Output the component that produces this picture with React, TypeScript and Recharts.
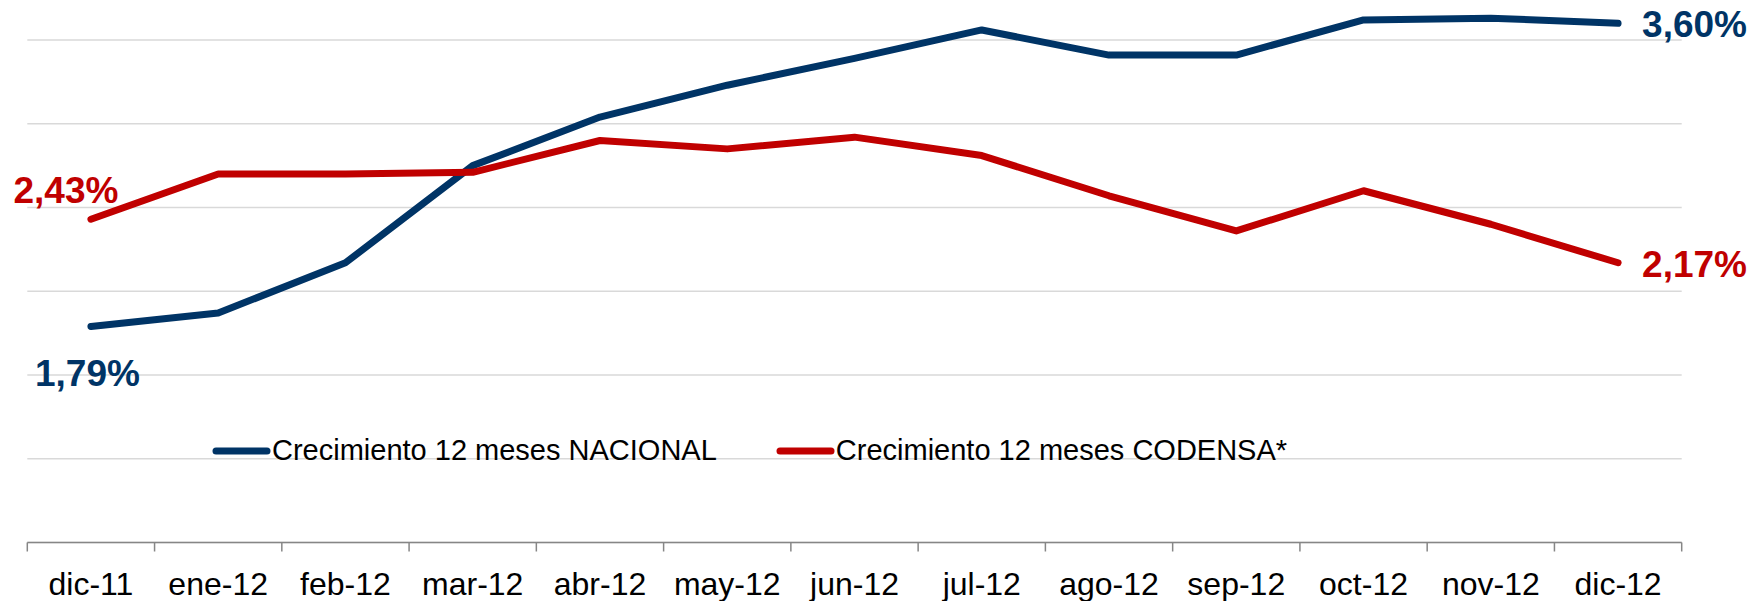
import React from "react";
import {
  LineChart,
  Line,
  XAxis,
  YAxis,
  CartesianGrid,
  Legend,
  LabelList,
} from "recharts";

const meses = [
  "dic-11", "ene-12", "feb-12", "mar-12", "abr-12", "may-12", "jun-12",
  "jul-12", "ago-12", "sep-12", "oct-12", "nov-12", "dic-12",
];
const nacional = [1.79, 1.87, 2.17, 2.75, 3.04, 3.23, 3.39, 3.56, 3.41, 3.41, 3.62, 3.63, 3.6];
const codensa = [2.43, 2.7, 2.7, 2.71, 2.9, 2.85, 2.92, 2.81, 2.57, 2.36, 2.6, 2.4, 2.17];
const yTicks = [0.5, 1, 1.5, 2, 2.5, 3, 3.5];
const nombreNacional = "Crecimiento 12 meses NACIONAL";
const nombreCodensa = "Crecimiento 12 meses CODENSA*";
const ordenLeyenda = [nombreNacional, nombreCodensa];

const data = meses.map((mes, i) => ({ mes, nacional: nacional[i], codensa: codensa[i] }));

const AZUL = "#003466";
const ROJO = "#C00000";
const FONT = "'Liberation Sans', Arial, sans-serif";

const W = 1752;
const H = 601;
const margin = { top: 6.5, right: 70.3, bottom: 0, left: 27.3 };
const step = (W - margin.left - margin.right) / meses.length;

const fmt = (v: number) => v.toFixed(2).replace(".", ",") + "%";

function MesTick(props: any) {
  const { x, y, payload, index } = props;
  const left = x - step / 2;
  return (
    <g>
      <line x1={left} x2={left} y1={y} y2={y + 9} stroke="#868686" strokeWidth={1.5} />
      {index === meses.length - 1 && (
        <line x1={x + step / 2} x2={x + step / 2} y1={y} y2={y + 9} stroke="#868686" strokeWidth={1.5} />
      )}
      <text x={x} y={y + 52.5} textAnchor="middle" fontSize={32} fontFamily={FONT} fill="#000">
        {payload.value}
      </text>
    </g>
  );
}

// only first and last point get a label
const makeLabel = (color: string, first: { dx: number; dy: number }) => (props: any) => {
  const { x, y, value, index } = props;
  if (index === 0) {
    return (
      <text x={x + first.dx} y={y + first.dy + 13} textAnchor="middle" fontSize={37} fontWeight="bold" fontFamily={FONT} fill={color}>
        {fmt(value)}
      </text>
    );
  }
  if (index === meses.length - 1) {
    return (
      <text x={x + 24} y={y + 14} textAnchor="start" fontSize={37} fontWeight="bold" fontFamily={FONT} fill={color}>
        {fmt(value)}
      </text>
    );
  }
  return null;
};

function Leyenda(props: any) {
  const items = [...(props.payload || [])].sort(
    (a: any, b: any) => ordenLeyenda.indexOf(a.value) - ordenLeyenda.indexOf(b.value)
  );
  return (
    <div style={{ display: "flex", alignItems: "center", fontFamily: FONT, fontSize: 29, color: "#000", whiteSpace: "nowrap" }}>
      {items.map((it: any, i: number) => (
        <div key={i} style={{ display: "flex", alignItems: "center", marginRight: i === 0 ? 58 : 0 }}>
          <svg width={61} height={12}>
            <line x1={5} x2={56} y1={6} y2={6} stroke={it.color} strokeWidth={7} strokeLinecap="round" />
          </svg>
          <span>{it.value}</span>
        </div>
      ))}
    </div>
  );
}

export default function App() {
  return (
    <div style={{ position: "absolute", left: 0, top: 0, background: "#fff" }}>
      <LineChart width={W} height={H} data={data} margin={margin}>
        <CartesianGrid vertical={false} stroke="#d9d9d9" strokeWidth={1.5} horizontalValues={yTicks} />
        <XAxis
          dataKey="mes"
          height={58.5}
          padding={{ left: step / 2, right: step / 2 }}
          axisLine={{ stroke: "#868686", strokeWidth: 1.5 }}
          tickLine={false}
          tickSize={0}
          tickMargin={0}
          interval={0}
          tick={<MesTick />}
        />
        <YAxis hide width={0} domain={[0.5, 3.7]} ticks={yTicks} allowDataOverflow />
        <Legend
          layout="horizontal"
          verticalAlign="middle"
          align="center"
          content={<Leyenda />}
          wrapperStyle={{ position: "absolute", left: 211, top: 434, width: "auto" }}
        />
        <Line
          type="linear"
          dataKey="nacional"
          name={nombreNacional}
          stroke={AZUL}
          strokeWidth={7}
          strokeLinecap="round"
          strokeLinejoin="round"
          dot={false}
          activeDot={false}
          isAnimationActive={false}
        >
          <LabelList dataKey="nacional" content={makeLabel(AZUL, { dx: -3.5, dy: 46.5 })} />
        </Line>
        <Line
          type="linear"
          dataKey="codensa"
          name={nombreCodensa}
          stroke={ROJO}
          strokeWidth={7}
          strokeLinecap="round"
          strokeLinejoin="round"
          dot={false}
          activeDot={false}
          isAnimationActive={false}
        >
          <LabelList dataKey="codensa" content={makeLabel(ROJO, { dx: -25, dy: -29 })} />
        </Line>
      </LineChart>
    </div>
  );
}
